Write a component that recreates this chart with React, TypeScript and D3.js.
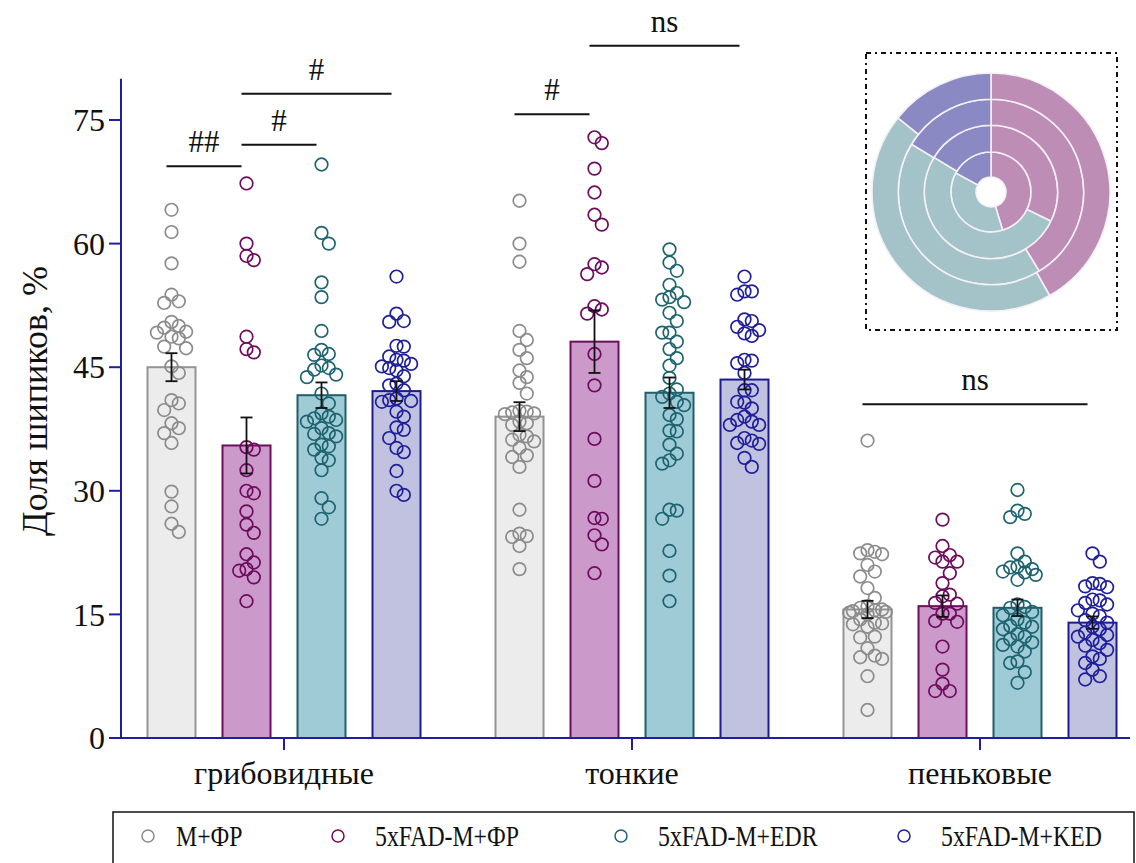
import React from 'react';
import * as d3 from 'd3';

const categories = ['грибовидные', 'тонкие', 'пеньковые'];
const groups = ['M+ФР', '5xFAD-M+ФР', '5xFAD-M+EDR', '5xFAD-M+KED'];

// bar means and SEM [category][group]
const meansMushroom = [45.0, 35.5, 41.6, 42.1];
const meansThin = [39.0, 48.1, 41.9, 43.5];
const meansStubby = [15.6, 16.0, 15.8, 14.0];
const semMushroom = [1.7, 3.4, 1.55, 1.2];
const semThin = [1.75, 3.8, 1.85, 1.2];
const semStubby = [1.05, 1.3, 1.0, 0.75];

// individual points
const mushroomMFR = [64.1, 61.4, 57.6, 53.8, 53.0, 52.8, 50.5, 50.0, 49.8, 49.3, 49.2, 48.7, 48.5, 47.5, 47.3, 45.1, 44.3, 41.0, 40.6, 39.8, 38.2, 37.6, 37.0, 35.8, 29.9, 28.1, 26.0, 25.0];
const mushroomFadFR = [67.3, 60.0, 58.5, 58.0, 48.7, 47.2, 46.8, 35.3, 35.0, 32.5, 30.0, 29.7, 27.5, 25.9, 24.9, 22.3, 21.3, 20.5, 20.3, 19.5, 16.6];
const mushroomFadEDR = [69.6, 61.3, 60.0, 55.3, 53.5, 49.4, 47.1, 46.6, 46.5, 45.2, 44.9, 44.7, 44.1, 43.8, 41.8, 40.6, 39.4, 39.0, 38.8, 38.6, 38.4, 37.6, 37.0, 36.9, 36.6, 35.6, 35.4, 35.0, 34.0, 33.7, 32.5, 29.1, 28.0, 26.6];
const mushroomFadKED = [56.0, 51.5, 50.6, 50.5, 47.6, 47.5, 46.3, 45.9, 45.8, 45.4, 45.1, 44.9, 44.6, 43.9, 43.0, 42.8, 42.2, 41.2, 41.0, 40.9, 40.8, 39.6, 39.0, 37.7, 37.4, 36.4, 35.2, 34.7, 32.4, 30.0, 29.5];

const thinMFR = [65.2, 60.0, 57.8, 49.4, 48.3, 47.1, 46.1, 44.6, 43.8, 43.1, 41.8, 39.7, 39.6, 39.5, 39.4, 39.3, 38.4, 38.2, 38.0, 36.8, 36.6, 36.2, 36.0, 35.2, 34.3, 34.1, 32.9, 27.7, 24.8, 24.5, 24.4, 23.3, 20.5];
const thinFadFR = [72.9, 72.2, 69.1, 66.2, 63.5, 62.3, 57.5, 57.1, 56.3, 52.4, 52.0, 51.5, 46.6, 42.8, 36.3, 31.2, 26.7, 26.6, 24.6, 23.5, 20.0];
const thinFadEDR = [59.3, 57.7, 56.7, 55.0, 54.0, 53.5, 53.2, 52.9, 51.6, 50.6, 49.2, 49.2, 48.1, 47.2, 46.1, 45.2, 43.7, 42.3, 41.8, 41.4, 40.8, 40.4, 39.2, 38.7, 37.3, 37.2, 35.6, 34.5, 33.7, 33.3, 27.7, 27.6, 26.6, 22.7, 19.7, 16.6];
const thinFadKED = [56.0, 54.2, 54.2, 53.8, 50.8, 50.6, 49.9, 49.5, 49.1, 48.8, 45.9, 45.8, 45.5, 44.3, 42.2, 42.2, 40.8, 40.7, 40.0, 39.0, 38.6, 38.4, 38.0, 38.0, 36.4, 36.1, 35.8, 35.7, 34.0, 32.9];

const stubbyMFR = [36.1, 22.8, 22.6, 22.4, 22.3, 21.0, 20.2, 19.6, 18.2, 17.0, 16.0, 15.8, 15.6, 15.5, 15.4, 15.3, 15.2, 15.0, 14.4, 14.0, 13.9, 13.8, 13.5, 12.3, 12.2, 10.9, 10.0, 9.8, 9.6, 7.5, 3.4];
const stubbyFadFR = [26.5, 23.3, 22.2, 21.9, 21.4, 21.4, 20.0, 18.8, 17.4, 17.2, 16.4, 16.3, 15.1, 15.1, 14.2, 14.1, 11.1, 8.3, 6.6, 5.7, 5.7];
const stubbyFadEDR = [30.1, 27.6, 27.2, 26.8, 22.4, 21.4, 20.8, 20.7, 20.5, 20.2, 20.1, 19.8, 19.2, 16.2, 15.9, 15.8, 15.3, 14.9, 14.4, 14.0, 13.6, 13.5, 13.2, 12.6, 12.3, 12.0, 11.6, 11.3, 11.1, 10.5, 9.3, 9.1, 8.0, 6.7];
const stubbyFadKED = [22.4, 21.4, 18.8, 18.7, 18.4, 18.3, 16.8, 16.7, 16.4, 16.2, 15.5, 15.1, 14.8, 14.3, 14.0, 13.5, 13.2, 12.8, 12.5, 12.3, 11.9, 11.5, 11.2, 10.7, 9.9, 9.6, 9.1, 8.3, 7.5, 7.1];

const yTicks = [0, 15, 30, 45, 60, 75];

// significance annotations
const sigLabels = ['##', '#', '#', '#', 'ns', 'ns'];
const sigCategory = [0, 0, 0, 1, 1, 2];
const sigFrom = [0, 1, 1, 0, 1, 0];
const sigTo = [1, 2, 3, 1, 3, 3];
const sigLevel = [69.4, 72.0, 78.2, 75.7, 84.0, 40.5];

// inset ring proportions (inner ring -> outer ring = groups)
const insetMushroom = [45.3, 32.2, 41.3, 41.8];
const insetThin = [37.6, 51.5, 42.3, 43.9];
const insetStubby = [17.1, 16.3, 16.4, 14.3];

const barFill = ['#ececec', '#cc99cb', '#9ecbd6', '#c1c1e0'];
const barStroke = ['#949494', '#6a0f5c', '#1f5f6b', '#1c1c92'];
const dotStroke = ['#8c8c8c', '#6e0b5e', '#1e6470', '#1f1f9b'];
const insetColors = ['#be8db6', '#a3c3c9', '#8a89c4'];
const axisColor = '#1f1f9e';

const FONT = "'Liberation Serif', 'Times New Roman', 'DejaVu Serif', serif";

// scatter layout: points closer than dyMin vertically are spread sideways
function swarm(values: number[], yPix: (v: number) => number) {
  const half = 3.65;
  const dxMin = 7.0;
  const dyMin = 12;
  const cands: number[] = [0];
  for (let k = 1; k <= 5; k++) { cands.push(k * half, -k * half); }
  const placed: { x: number; y: number }[] = [];
  const res: number[] = new Array(values.length).fill(0);
  const order = values.map((_, i) => i).sort((a, b) => values[b] - values[a]);
  for (const i of order) {
    const py = yPix(values[i]);
    let chosen: number | null = null;
    let bestC = 0, bestCost = Infinity;
    for (const c of cands) {
      let cost = 0;
      for (const p of placed) {
        const dx = Math.abs(p.x - c), dy = Math.abs(p.y - py);
        if (dx < dxMin && dy < dyMin) cost += (dxMin - dx) * (dyMin - dy);
      }
      if (cost === 0) { chosen = c; break; }
      if (cost < bestCost) { bestCost = cost; bestC = c; }
    }
    const x = chosen === null ? bestC : chosen;
    placed.push({ x, y: py });
    res[i] = x;
  }
  return res;
}

export default function App() {
  const W = 1136, H = 863;
  const y = d3.scaleLinear().domain([0, 75]).range([738, 120]);
  const xCat = d3.scalePoint<string>().domain(categories).range([284, 980]);
  const xGrp = d3.scaleBand<string>().domain(groups).range([-150, 150]).paddingInner(0.36).paddingOuter(0.18);
  const bw = xGrp.bandwidth();
  const barCenter = (ci: number, gi: number) => (xCat(categories[ci]) as number) + (xGrp(groups[gi]) as number) + bw / 2;

  const means = [meansMushroom, meansThin, meansStubby];
  const sems = [semMushroom, semThin, semStubby];
  const points = [
    [mushroomMFR, mushroomFadFR, mushroomFadEDR, mushroomFadKED],
    [thinMFR, thinFadFR, thinFadEDR, thinFadKED],
    [stubbyMFR, stubbyFadFR, stubbyFadEDR, stubbyFadKED],
  ];

  const axisX = 121;
  const axisTop = y(80);

  const insetCx = 991, insetCy = 192;
  const ringR = [15, 40, 66.7, 92.7, 119];
  const pie = d3.pie<number>().sort(null).value(d => d);
  const txt = { fontFamily: FONT };
  const legendCircleX = [148, 338, 621, 904];
  const legendTextX = [176, 375, 658, 941];

  return (
    <svg width={W} height={H} style={{ position: 'absolute', left: 0, top: 0, fontFamily: FONT }}>
      <rect x={0} y={0} width={W} height={H} fill="#ffffff" />
      {categories.map((c, ci) => groups.map((g, gi) => {
        const cx = barCenter(ci, gi);
        return (
          <rect key={`b${ci}${gi}`} x={cx - bw / 2} y={y(means[ci][gi])} width={bw} height={y(0) - y(means[ci][gi])}
            fill={barFill[gi]} stroke={barStroke[gi]} strokeWidth={2} />
        );
      }))}
      {categories.map((c, ci) => groups.map((g, gi) => {
        const cx = barCenter(ci, gi);
        const vals = points[ci][gi];
        const offs = swarm(vals, v => y(v));
        return vals.map((v, i) => (
          <circle key={`p${ci}${gi}${i}`} cx={cx + offs[i]} cy={y(v)} r={6.3} fill="none" stroke={dotStroke[gi]} strokeWidth={1.7} />
        ));
      }))}
      {categories.map((c, ci) => groups.map((g, gi) => {
        const cx = barCenter(ci, gi);
        const m = means[ci][gi], s = sems[ci][gi];
        return (
          <g key={`e${ci}${gi}`} stroke="#111" strokeWidth={1.8}>
            <line x1={cx} x2={cx} y1={y(m + s)} y2={y(m - s)} />
            <line x1={cx - 6} x2={cx + 6} y1={y(m + s)} y2={y(m + s)} />
            <line x1={cx - 6} x2={cx + 6} y1={y(m - s)} y2={y(m - s)} />
          </g>
        );
      }))}
      <line x1={axisX} x2={axisX} y1={axisTop} y2={y(0)} stroke={axisColor} strokeWidth={2} />
      <line x1={axisX} x2={1130} y1={y(0)} y2={y(0)} stroke={axisColor} strokeWidth={2} />
      {yTicks.map(t => (
        <g key={`t${t}`}>
          <line x1={axisX - 12} x2={axisX} y1={y(t)} y2={y(t)} stroke={axisColor} strokeWidth={2} />
          <text x={105} y={y(t)} dy="0.35em" textAnchor="end" fontSize={32} fill="#111" style={txt}>{t}</text>
        </g>
      ))}
      {categories.map(c => (
        <g key={`c${c}`}>
          <line x1={xCat(c)} x2={xCat(c)} y1={y(0)} y2={y(0) + 12} stroke={axisColor} strokeWidth={2} />
          <text x={xCat(c)} y={784} textAnchor="middle" fontSize={32} fill="#111" style={txt}>{c}</text>
        </g>
      ))}
      <text transform={`translate(47,401) rotate(-90)`} textAnchor="middle" fontSize={36} fill="#111" style={txt}>Доля шипиков, %</text>
      {sigLabels.map((lab, i) => {
        const x1 = barCenter(sigCategory[i], sigFrom[i]) - 5;
        const x2 = barCenter(sigCategory[i], sigTo[i]) - 5;
        const ly = y(sigLevel[i]);
        return (
          <g key={`s${i}`}>
            <line x1={x1} x2={x2} y1={ly} y2={ly} stroke="#111" strokeWidth={2} />
            <text x={(x1 + x2) / 2} y={ly - 14} textAnchor="middle" fontSize={31} fill="#111" style={txt}>{lab}</text>
          </g>
        );
      })}
      <rect x={866} y={53} width={251} height={277} fill="none" stroke="#111" strokeWidth={2} strokeDasharray="5 4 2 4" />
      {insetMushroom.map((_, ri) => {
        const arcs = pie([insetMushroom[ri], insetThin[ri], insetStubby[ri]]);
        const arc = d3.arc<d3.PieArcDatum<number>>().innerRadius(ringR[ri]).outerRadius(ringR[ri + 1]);
        return arcs.map((a, k) => (
          <path key={`r${ri}${k}`} d={arc(a) || ''} transform={`translate(${insetCx},${insetCy})`} fill={insetColors[k]} stroke="#f4f0f6" strokeWidth={1.6} />
        ));
      })}
      <rect x={113} y={812} width={1021} height={70} fill="none" stroke="#111" strokeWidth={1.5} />
      {groups.map((g, gi) => (
        <g key={`l${gi}`}>
          <circle cx={legendCircleX[gi]} cy={836} r={6} fill="none" stroke={dotStroke[gi]} strokeWidth={1.5} />
          <text transform={`translate(${legendTextX[gi]},836) scale(0.82,1)`} dy="0.36em" fontSize={29} fill="#111" style={txt}>{g}</text>
        </g>
      ))}
    </svg>
  );
}
